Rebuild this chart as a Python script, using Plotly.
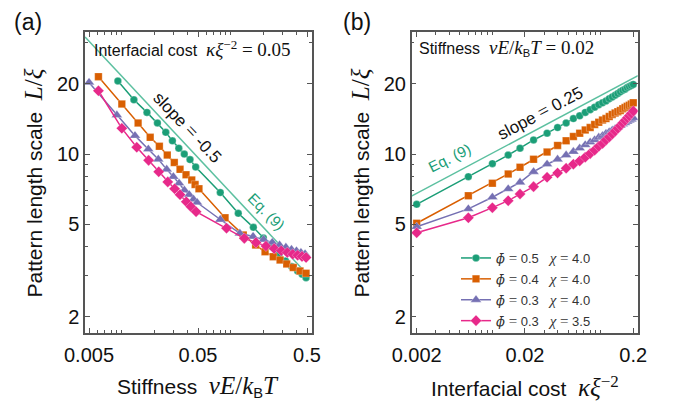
import plotly.graph_objects as go

W, H = 673, 402

# ---------------- data: panel (a) vs stiffness ----------------
green_a_x = [0.0092, 0.0129, 0.017, 0.0212, 0.0253, 0.0291, 0.0333, 0.0374, 0.0422, 0.0476,
             0.08, 0.117, 0.161, 0.199, 0.237, 0.277, 0.318, 0.362, 0.41, 0.451, 0.49]
green_a_y = [20.6, 17.1, 15.1, 13.6, 12.4, 11.4, 10.6, 10.0, 9.47, 8.8,
             6.84, 5.57, 4.85, 4.36, 4.0, 3.72, 3.48, 3.29, 3.15, 3.05, 2.95]

orange_a_x = [0.0061, 0.0100, 0.0141, 0.0182, 0.0221, 0.0261, 0.0303, 0.0342, 0.0388, 0.0438, 0.047, 0.051,
              0.0885, 0.13, 0.169, 0.206, 0.245, 0.283, 0.326, 0.374, 0.431, 0.49]
orange_a_y = [21.5, 16.4, 13.6, 11.8, 10.8, 9.9, 9.2, 8.6, 8.15, 7.75, 7.4, 7.1,
              5.33, 4.5, 4.07, 3.81, 3.63, 3.51, 3.38, 3.26, 3.15, 3.08]

purple_a_x = [0.005, 0.009, 0.0132, 0.0175, 0.0216, 0.0258, 0.0297, 0.0335, 0.0375, 0.0415, 0.0455, 0.049,
              0.08, 0.121, 0.16, 0.2, 0.24, 0.28, 0.32, 0.36, 0.40, 0.44, 0.48]
purple_a_y = [20.3, 14.7, 12.0, 10.5, 9.5, 8.6, 8.0, 7.5, 7.0, 6.7, 6.4, 6.2,
              5.24, 4.57, 4.43, 4.3, 4.18, 4.07, 3.98, 3.9, 3.84, 3.78, 3.73]

pink_a_x = [0.0061, 0.010, 0.0137, 0.0176, 0.0218, 0.0264, 0.0305, 0.0342, 0.039, 0.043, 0.048,
            0.0913, 0.133, 0.17, 0.21, 0.25, 0.29, 0.33, 0.37, 0.41, 0.45, 0.49]
pink_a_y = [18.7, 12.9, 10.7, 9.4, 8.4, 7.6, 7.1, 6.7, 6.25, 5.95, 5.66,
            4.81, 4.35, 4.17, 4.03, 3.93, 3.85, 3.78, 3.72, 3.68, 3.64, 3.6]

eq9_a_x = [0.0046, 0.53]
eq9_a_y = [31.8, 2.97]

# ---------------- data: panel (b) vs interfacial cost ----------------
cost_b_x = [0.002, 0.006, 0.010, 0.014, 0.018, 0.024, 0.032, 0.040, 0.048, 0.056, 0.064, 0.072,
            0.080, 0.088, 0.096, 0.104, 0.112, 0.120, 0.128, 0.136, 0.144, 0.152, 0.160, 0.168,
            0.176, 0.184, 0.192, 0.200]
green_b_y = [6.09, 8.0, 9.1, 9.9, 10.6, 11.5, 12.3, 13.0, 13.6, 14.2, 14.6, 15.1,
             15.5, 15.9, 16.3, 16.6, 16.9, 17.3, 17.6, 17.9, 18.2, 18.5, 18.8, 19.0,
             19.3, 19.5, 19.7, 19.9]
orange_b_y = [5.05, 6.63, 7.5, 8.22, 8.78, 9.5, 10.2, 10.9, 11.4, 11.9, 12.3, 12.7,
              13.0, 13.4, 13.7, 14.0, 14.2, 14.5, 14.8, 15.0, 15.2, 15.4, 15.65, 15.85,
              16.05, 16.2, 16.4, 16.6]
purple_b_y = [4.88, 5.82, 6.53, 7.09, 7.57, 8.4, 9.05, 9.5, 9.9, 10.25, 10.6, 10.95,
              11.25, 11.5, 11.8, 12.0, 12.25, 12.45, 12.65, 12.85, 13.05, 13.25, 13.45, 13.6,
              13.8, 13.95, 14.1, 14.3]
pink_b_y = [4.6, 5.33, 5.89, 6.31, 6.74, 7.25, 7.95, 8.3, 8.7, 9.05, 9.35, 9.7,
            10.05, 10.4, 10.8, 11.1, 11.5, 11.85, 12.2, 12.55, 12.9, 13.25, 13.6, 13.95,
            14.3, 14.6, 14.95, 15.3]

eq9_b_x = [0.00179, 0.221]
eq9_b_y = [6.6, 21.7]

SERIF = "Liberation Serif"
def m(s, size):
    return f'<span style="font-family:{SERIF};font-size:{size}px">{s}</span>'
def phi(size):
    return f'<span style="font-family:DejaVu Serif;font-size:{size}px"><i>\u03d5\u0304</i></span>'

NB = "\u00a0"
LS = 15  # legend serif size
series_names = [
    f"{phi(13)}{m(' =', LS)} 0.5{NB*3}{m('<i>χ</i> =', LS)} 4.0",
    f"{phi(13)}{m(' =', LS)} 0.4{NB*3}{m('<i>χ</i> =', LS)} 4.0",
    f"{phi(13)}{m(' =', LS)} 0.3{NB*3}{m('<i>χ</i> =', LS)} 4.0",
    f"{phi(13)}{m(' =', LS)} 0.3{NB*3}{m('<i>χ</i> =', LS)} 3.5",
]
colors = ["#1b9e77", "#d95f02", "#7570b3", "#e7298a"]
symbols = ["circle", "square", "triangle-up", "diamond"]
msizes = [7.5, 7.5, 9.5, 8.5]
eq_color = "#5cc0a0"

fig = go.Figure()

data_a = [(green_a_x, green_a_y), (orange_a_x, orange_a_y), (purple_a_x, purple_a_y), (pink_a_x, pink_a_y)]
data_b = [green_b_y, orange_b_y, purple_b_y, pink_b_y]

fig.add_trace(go.Scatter(x=eq9_a_x, y=eq9_a_y, mode="lines", line=dict(color=eq_color, width=1.5),
                         showlegend=False, xaxis="x", yaxis="y"))
fig.add_trace(go.Scatter(x=eq9_b_x, y=eq9_b_y, mode="lines", line=dict(color=eq_color, width=1.5),
                         showlegend=False, xaxis="x2", yaxis="y2"))

for i, (xs, ys) in enumerate(data_a):
    fig.add_trace(go.Scatter(x=xs, y=ys, mode="lines+markers",
                             line=dict(color=colors[i], width=1.5),
                             marker=dict(symbol=symbols[i], size=msizes[i], color=colors[i],
                                         line=dict(color="rgba(255,255,255,0.35)", width=0.8)),
                             showlegend=False, xaxis="x", yaxis="y"))
for i, ys in enumerate(data_b):
    fig.add_trace(go.Scatter(x=cost_b_x, y=ys, mode="lines+markers", name=series_names[i],
                             legendgroup=f"g{i}",
                             line=dict(color=colors[i], width=1.5),
                             marker=dict(symbol=symbols[i], size=msizes[i], color=colors[i],
                                         line=dict(color="rgba(255,255,255,0.35)", width=0.8)),
                             showlegend=True, xaxis="x2", yaxis="y2"))

AX = "#555555"
FONT = "Liberation Sans"
yt_major = [2, 5, 10, 20]
yt_minor = [3, 4, 6, 7, 8, 9, 30]
xa_major = [0.005, 0.05, 0.5]
xa_ticktext = ["0.005", "0.05", "0.5"]
xa_minor = [0.006, 0.007, 0.008, 0.009, 0.01, 0.02, 0.03, 0.04, 0.06, 0.07, 0.08, 0.09, 0.1, 0.2, 0.3, 0.4]
xb_major = [0.002, 0.02, 0.2]
xb_ticktext = ["0.002", "0.02", "0.2"]
xb_minor = [0.003, 0.004, 0.005, 0.006, 0.007, 0.008, 0.009, 0.01, 0.03, 0.04, 0.05, 0.06, 0.07, 0.08, 0.09, 0.1]

def axis_common():
    return dict(type="log", showgrid=False, zeroline=False, showline=True, linecolor=AX, linewidth=1.5,
                mirror="ticks", ticks="inside", ticklen=5, tickwidth=1, tickcolor=AX, automargin=False,
                tickfont=dict(family=FONT, size=20, color="#111"),
                minor=dict(ticks="inside", ticklen=3, tickwidth=1, tickcolor=AX, showgrid=False))

def px2x(p): return p / W
def px2y(p): return 1 - p / H

ydom = [px2y(333), px2y(32)]
xa = axis_common(); xa.update(domain=[px2x(85), px2x(311.7)], range=[-2.338, -0.258], anchor="y",
                              tickmode="array", tickvals=xa_major, ticktext=xa_ticktext, ticklabelstandoff=3)
xa["minor"].update(tickmode="array", tickvals=xa_minor)
xb = axis_common(); xb.update(domain=[px2x(411.7), px2x(637.7)], range=[-2.745, -0.658], anchor="y2",
                              tickmode="array", tickvals=xb_major, ticktext=xb_ticktext, ticklabelstandoff=3)
xb["minor"].update(tickmode="array", tickvals=xb_minor)
ya = axis_common(); ya.update(domain=ydom, range=[0.2323, 1.524], anchor="x",
                              tickmode="array", tickvals=yt_major, ticktext=[str(v) for v in yt_major])
ya["minor"].update(tickmode="array", tickvals=yt_minor)
yb = axis_common(); yb.update(domain=ydom, range=[0.2323, 1.524], anchor="x2",
                              tickmode="array", tickvals=yt_major, ticktext=[str(v) for v in yt_major])
yb["minor"].update(tickmode="array", tickvals=yt_minor)

ann = []
def add(text, x, y, size, angle=0, color="#111", xanchor="center"):
    ann.append(dict(text=text, x=px2x(x), y=px2y(y), xref="paper", yref="paper", showarrow=False,
                    textangle=angle, xanchor=xanchor, yanchor="middle",
                    font=dict(family=FONT, size=size, color=color)))

TS = 21   # axis title size
TM = 25   # axis title math size
add("(a)", 28, 22, 23)
add("(b)", 357, 22, 23)
ytitle = f"Pattern length scale{NB*2}{m('<i>L</i>/<i>ξ</i>', TM)}"
add(ytitle, 33, 183.5, TS, angle=-90)
add(ytitle, 360, 183.5, TS, angle=-90)
add(f"Stiffness{NB*2}{m('<i>νE</i>/<i>k</i>', TM)}<sub>B</sub>{m('<i>T</i>', TM)}", 197.5, 386, TS)
add(f"Interfacial cost{NB*2}{m('<i>κξ</i>', TM)}<sup>{m('−2', 17)}</sup>", 525, 386, TS)
add(f"Interfacial cost{NB*2}{m('<i>κξ</i>', 19)}<sup>{m('−2', 13)}</sup>{m(' = 0.05', 19)}", 91.7, 48, 16, xanchor="left")
add(f"Stiffness{NB*2}{m('<i>νE</i>/<i>k</i>', 19)}<sub>B</sub>{m('<i>T</i> = 0.02', 19)}", 416.7, 48, 16, xanchor="left")
add(f"slope {m('=', 19)} -0.5", 187.5, 126.5, 17, angle=46.5)
add("Eq. (9)", 266.5, 211.5, 15, angle=45, color="#1b9e77")
add(f"slope {m('=', 19)} 0.25", 540, 112.5, 17, angle=-28)
add("Eq. (9)", 450, 157.5, 15, angle=-26.5, color="#1b9e77")

fig.update_layout(
    width=W, height=H, margin=dict(l=0, r=0, t=0, b=0, autoexpand=False),
    paper_bgcolor="white", plot_bgcolor="white",
    xaxis=xa, yaxis=ya, xaxis2=xb, yaxis2=yb,
    annotations=ann,
    showlegend=True,
    legend=dict(x=px2x(456), y=px2y(243), xanchor="left", yanchor="top",
                bgcolor="rgba(0,0,0,0)", font=dict(family=FONT, size=13, color="#333"),
                tracegroupgap=1, itemwidth=30),
    font=dict(family=FONT),
)

fig.write_html("out.html")
